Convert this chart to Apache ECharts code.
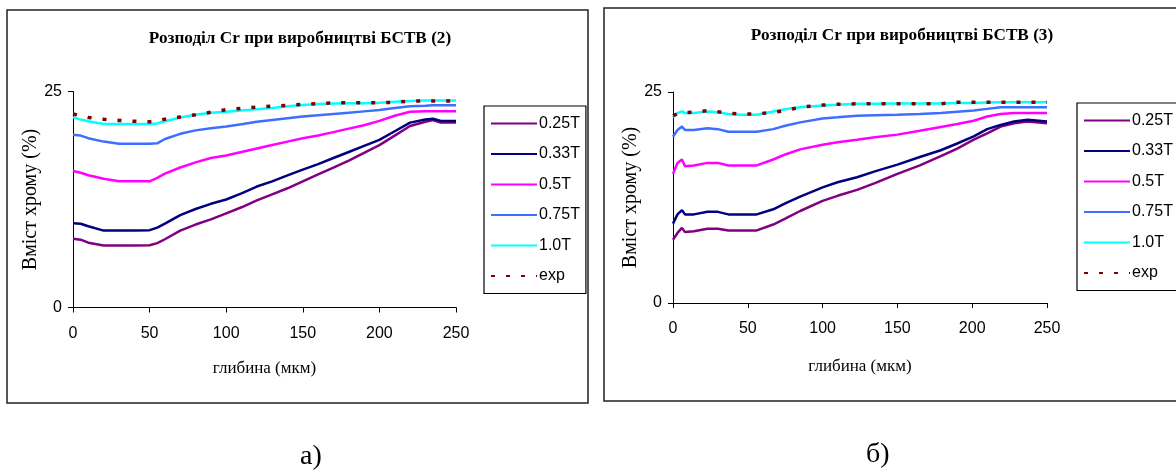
<!DOCTYPE html>
<html>
<head>
<meta charset="utf-8">
<script src="https://cdn.jsdelivr.net/npm/echarts@6/dist/echarts.min.js"></script>
<style>
html,body{margin:0;padding:0;background:#fff;}
#c{width:1176px;height:473px;}
</style>
</head>
<body>
<div id="c"></div>
<script>
// ---------- DATA ----------
const seriesNames = ['0.25T', '0.33T', '0.5T', '0.75T', '1.0T', 'exp'];
const titleA = 'Розподіл Cr при виробництві БСТВ (2)';
const titleB = 'Розподіл Cr при виробництві БСТВ (3)';
const xAxisName = 'глибина (мкм)';
const yAxisName = 'Вміст хрому (%)';
const xTicks = [0, 50, 100, 150, 200, 250];
const yTicks = [0, 25];

// chart (a)
const depthA = [0, 5, 10, 20, 30, 40, 50, 55, 60, 70, 80, 90, 100, 110, 120, 130, 140, 150, 160, 170, 180, 190, 200, 210, 220, 230, 235, 240, 250];
const a025 = [7.95, 7.85, 7.5, 7.18, 7.18, 7.18, 7.2, 7.45, 7.9, 8.9, 9.6, 10.2, 10.9, 11.6, 12.4, 13.1, 13.8, 14.6, 15.4, 16.2, 17.0, 17.9, 18.8, 19.9, 21.0, 21.5, 21.7, 21.4, 21.4];
const a033 = [9.76, 9.7, 9.4, 8.9, 8.9, 8.9, 8.95, 9.25, 9.7, 10.7, 11.4, 12.0, 12.5, 13.2, 14.0, 14.6, 15.3, 15.95, 16.6, 17.3, 18.0, 18.7, 19.4, 20.4, 21.4, 21.75, 21.85, 21.6, 21.6];
const a05  = [15.8, 15.6, 15.3, 14.9, 14.6, 14.6, 14.6, 15.0, 15.5, 16.2, 16.8, 17.3, 17.6, 18.0, 18.4, 18.8, 19.2, 19.6, 19.9, 20.3, 20.7, 21.1, 21.6, 22.2, 22.65, 22.7, 22.7, 22.7, 22.7];
const a075 = [20.0, 19.9, 19.6, 19.2, 18.95, 18.95, 18.95, 19.0, 19.5, 20.1, 20.5, 20.75, 20.95, 21.2, 21.5, 21.7, 21.9, 22.1, 22.25, 22.4, 22.55, 22.7, 22.85, 23.1, 23.3, 23.35, 23.4, 23.4, 23.4];
const a10  = [22.0, 21.75, 21.55, 21.25, 21.25, 21.25, 21.25, 21.3, 21.55, 22.0, 22.3, 22.55, 22.65, 22.8, 22.95, 23.1, 23.3, 23.45, 23.55, 23.6, 23.65, 23.65, 23.7, 23.8, 23.9, 23.95, 23.95, 23.95, 23.95];
const aExp = [22.4, 22.2, 22.0, 21.8, 21.65, 21.55, 21.5, 21.6, 21.8, 22.05, 22.3, 22.6, 22.9, 23.05, 23.2, 23.3, 23.4, 23.5, 23.6, 23.7, 23.7, 23.7, 23.7, 23.75, 23.9, 23.9, 23.9, 23.9, 23.9];

// chart (b)
const depthB = [0, 3, 6, 8, 14, 23, 30, 37, 45, 56, 67, 75, 85, 100, 110, 123, 135, 150, 165, 179, 190, 201, 210, 219, 228, 237, 250];
const b025 = [7.5, 8.3, 8.9, 8.4, 8.5, 8.8, 8.8, 8.6, 8.6, 8.6, 9.3, 10.0, 10.9, 12.1, 12.7, 13.4, 14.2, 15.3, 16.3, 17.4, 18.3, 19.35, 20.1, 20.9, 21.3, 21.5, 21.3];
const b033 = [9.4, 10.5, 11.0, 10.5, 10.5, 10.8, 10.8, 10.5, 10.5, 10.5, 11.1, 11.8, 12.6, 13.7, 14.3, 14.9, 15.6, 16.4, 17.3, 18.1, 18.9, 19.75, 20.6, 21.1, 21.5, 21.7, 21.5];
const b05  = [15.3, 16.6, 17.0, 16.2, 16.3, 16.6, 16.6, 16.3, 16.3, 16.3, 17.0, 17.6, 18.2, 18.75, 19.05, 19.35, 19.65, 19.95, 20.4, 20.85, 21.2, 21.6, 22.1, 22.4, 22.5, 22.5, 22.5];
const b075 = [19.7, 20.5, 20.9, 20.5, 20.5, 20.7, 20.6, 20.3, 20.3, 20.3, 20.6, 21.0, 21.4, 21.85, 22.0, 22.2, 22.25, 22.3, 22.4, 22.5, 22.65, 22.8, 23.0, 23.2, 23.2, 23.2, 23.2];
const b10  = [22.0, 22.5, 22.7, 22.5, 22.5, 22.7, 22.6, 22.4, 22.3, 22.3, 22.7, 22.95, 23.2, 23.4, 23.5, 23.6, 23.62, 23.65, 23.65, 23.65, 23.7, 23.7, 23.75, 23.8, 23.8, 23.8, 23.8];
const bExp = [22.2, 22.4, 22.5, 22.55, 22.6, 22.8, 22.65, 22.5, 22.4, 22.4, 22.6, 22.8, 23.2, 23.45, 23.55, 23.6, 23.6, 23.6, 23.6, 23.6, 23.8, 23.8, 23.8, 23.8, 23.8, 23.8, 23.8];

// ---------- STYLE ----------
const colors = ['#800080', '#000080', '#FF00FF', '#3D6EFF', '#00FFFF', '#800000'];
const SANS = '"Liberation Sans", Arial, sans-serif';
const SERIF = '"Liberation Serif", "Times New Roman", serif';

function pair(xs, ys) { return xs.map((x, i) => [x, ys[i]]); }

const chart = echarts.init(document.getElementById('c'), null, { renderer: 'canvas' });

function axesFor(idx, yGap, xGap) {
  const common = {
    gridIndex: idx,
    type: 'value',
    axisLine: { show: true, lineStyle: { color: '#000', width: 1 } },
    axisTick: { show: true, length: 5, lineStyle: { color: '#000', width: 1 } },
    splitLine: { show: false },
    axisLabel: { color: '#000', fontFamily: SANS, fontSize: 16 }
  };
  return {
    x: Object.assign({}, common, {
      min: xTicks[0], max: xTicks[xTicks.length - 1], interval: xTicks[1] - xTicks[0],
      name: xAxisName, nameLocation: 'middle', nameGap: xGap,
      nameTextStyle: { color: '#000', fontFamily: SERIF, fontSize: 17 },
      axisLabel: Object.assign({}, common.axisLabel, { margin: 18 })
    }),
    y: Object.assign({}, common, {
      min: yTicks[0], max: yTicks[yTicks.length - 1], interval: yTicks[1] - yTicks[0],
      name: yAxisName, nameLocation: 'middle', nameGap: yGap, nameRotate: 90,
      nameTextStyle: { color: '#000', fontFamily: SERIF, fontSize: 20 },
      axisLabel: Object.assign({}, common.axisLabel, { margin: 11 })
    })
  };
}
const axA = axesFor(0, 27, 53);
const axB = axesFor(1, 31, 55);

const dataA = [a025, a033, a05, a075, a10, aExp];
const dataB = [b025, b033, b05, b075, b10, bExp];

function mkSeries(arrs, xs, idx) {
  return arrs.map((ys, i) => ({
    name: seriesNames[i],
    type: 'line',
    xAxisIndex: idx, yAxisIndex: idx,
    data: pair(xs, ys),
    showSymbol: false, symbol: 'none',
    animation: false,
    lineStyle: i === 5
      ? { color: colors[i], width: 3.5, type: [4, 11] }
      : { color: colors[i], width: 2.5 },
    itemStyle: { color: colors[i] },
    z: i === 5 ? 3 : 2
  }));
}

const legendCommon = {
  orient: 'vertical',
  data: seriesNames,
  itemWidth: 46, itemHeight: 2, itemGap: 13.5,
  itemStyle: { color: 'rgba(0,0,0,0)', borderWidth: 0, opacity: 0 },
  textStyle: { color: '#000', fontFamily: SANS, fontSize: 16, padding: [0, 0, 0, -3], lineHeight: 17 },
  borderColor: '#000', borderWidth: 1.2,
  padding: [9, 6, 9, 6],
  selectedMode: false
};

chart.setOption({
  backgroundColor: '#fff',
  animation: false,
  title: [
    { text: titleA, left: 295, top: 25, textAlign: 'center',
      textStyle: { fontFamily: SERIF, fontWeight: 'bold', fontSize: 17.2, color: '#000' } },
    { text: titleB, left: 897, top: 22, textAlign: 'center',
      textStyle: { fontFamily: SERIF, fontWeight: 'bold', fontSize: 17.2, color: '#000' } }
  ],
  legend: [
    Object.assign({}, legendCommon, { left: 484, top: 106 }),
    Object.assign({}, legendCommon, { left: 1077, top: 103 })
  ],
  grid: [
    { left: 73, top: 91.5, width: 383, height: 216 },
    { left: 673, top: 92, width: 374, height: 211 }
  ],
  xAxis: [axA.x, axB.x],
  yAxis: [axA.y, axB.y],
  series: mkSeries(dataA, depthA, 0).concat(mkSeries(dataB, depthB, 1)),
  graphic: [
    { type: 'rect', shape: { x: 7, y: 10, width: 581, height: 393 }, style: { fill: 'none', stroke: '#222', lineWidth: 1.5 }, silent: true },
    { type: 'rect', shape: { x: 604, y: 8, width: 600, height: 393 }, style: { fill: 'none', stroke: '#222', lineWidth: 1.5 }, silent: true },
    { type: 'text', left: 300, top: 443, style: { text: 'а)', fontFamily: SERIF, fontSize: 28, fill: '#000' }, silent: true },
    { type: 'text', left: 866, top: 441, style: { text: 'б)', fontFamily: SERIF, fontSize: 28, fill: '#000' }, silent: true }
  ]
});
</script>
</body>
</html>
